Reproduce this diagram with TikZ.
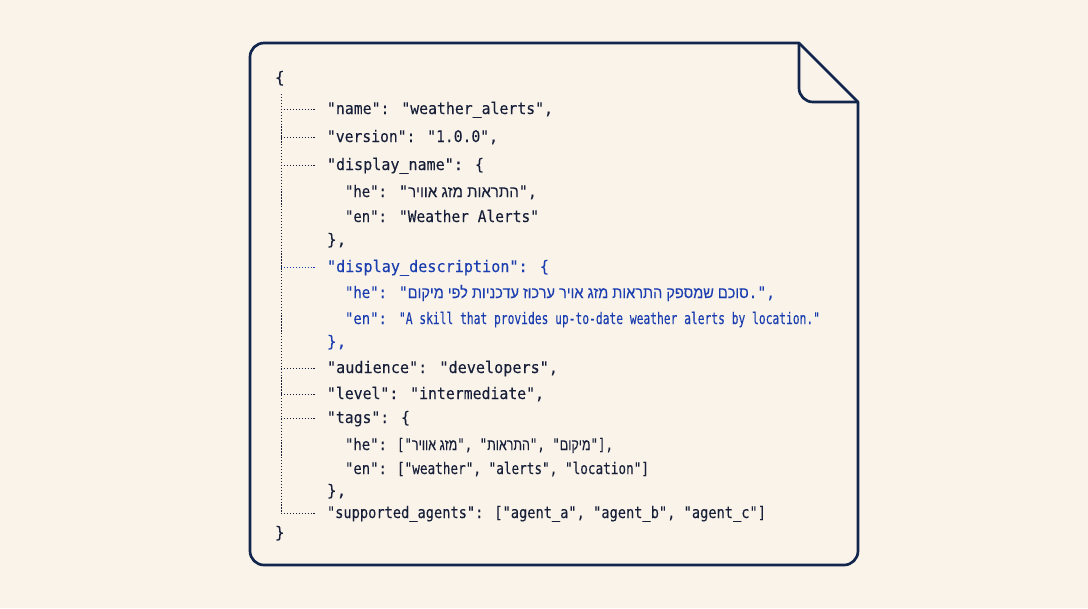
\documentclass[tikz,border=0pt]{standalone}
\usepackage{fontspec}
\usepackage{graphicx}
\newfontfamily\jsonfont[FakeBold=0.08]{DejaVu Sans Mono}
\newfontfamily\hebfont[Script=Hebrew,FakeBold=0.08]{Liberation Sans}
\TeXXeTstate=1
\definecolor{paper}{HTML}{F9F3E9}
\definecolor{navy}{HTML}{12264D}
\definecolor{ink}{HTML}{161E38}
\definecolor{accent}{HTML}{1A3DB0}
\newlength{\pxw}
\setlength{\pxw}{0.025cm}
\newcommand{\fitted}[2]{\resizebox{#1\pxw}{\height}{#2}}
\tikzset{
    sheet/.style={draw=navy, line width=1.9pt, line join=round},
    guide/.style={draw=ink, line width=0.55pt, dash pattern=on 0.9pt off 1.2pt},
    line/.style={anchor=base west, inner sep=0pt, outer sep=0pt, text=ink, font=\jsonfont\fontsize{11.4}{13}\selectfont},
    blueline/.style={line, text=accent}
}
\begin{document}
\begin{tikzpicture}[x=0.025cm, y=-0.025cm]
            \path[fill=paper] (0,0) rectangle (1088,608);

            % sheet with folded corner
            \draw[sheet] (799,43) [rounded corners=0.35cm] -- (250,43) -- (250,565) -- (858,565) [sharp corners] -- (858,102) -- cycle;
            \draw[sheet] (799,43) [rounded corners=0.35cm] -- (799,102) [sharp corners] -- (858,102);

            % guide lines
            \coordinate (top) at (281,94);
            \coordinate (bottom) at (281,513);
            \draw[guide] (top) -- (bottom);
            \foreach \g/\y in {name/109, version/137, dname/165, audience/368, level/394, tags/418, agents/513} {
                \coordinate (\g a) at (281,\y);
                \coordinate (\g b) at (316,\y);
                \draw[guide] (\g a) -- (\g b);
            }
            \coordinate (ddesca) at (281,267);
            \coordinate (ddescb) at (316,267);
            \draw[guide, draw=accent] (ddesca) -- (ddescb);

            % json text
            \node[line] (open) at (275,83) {\{};
            \node[line] (name) at (327,114) {\fitted{226}{"name": "weather\_alerts",}};
            \node[line] (version) at (327,142) {\fitted{171}{"version": "1.0.0",}};
            \node[line] (dname) at (327,170) {\fitted{157}{"display\_name": \{}};
            \node[line] (dnamehekey) at (345,197) {\fitted{42}{"he":}};
            \node[line] (dnamehe) at (399,197) {\fitted{138}{"{\hebfont\beginR התראות מזג אוויר\endR}",}};
            \node[line] (dnameenkey) at (345,222) {\fitted{42}{"en":}};
            \node[line] (dnameen) at (399,222) {\fitted{140}{"Weather Alerts"}};
            \node[line] (dnameclose) at (327,245) {\},};

            \node[blueline] (ddesc) at (327,272) {\fitted{222}{"display\_description": \{}};
            \node[blueline] (ddeschekey) at (345,298) {\fitted{42}{"he":}};
            \node[blueline] (ddesche) at (399,298) {\fitted{376}{"{\hebfont\beginR סוכם שמספק התראות מזג אויר ערכוז עדכניות לפי מיקום\endR}.",}};
            \node[blueline] (ddescenkey) at (345,324) {\fitted{42}{"en":}};
            \node[blueline] (ddescen) at (399,324) {\fitted{421}{"A skill that provides up-to-date weather alerts by location."}};
            \node[blueline] (ddescclose) at (327,347) {\},};

            \node[line] (audience) at (327,373) {\fitted{231}{"audience": "developers",}};
            \node[line] (level) at (327,399) {\fitted{217}{"level": "intermediate",}};
            \node[line] (tags) at (327,423) {\fitted{83}{"tags": \{}};
            \node[line] (tagshekey) at (345,450) {\fitted{42}{"he":}};
            \node[line] (tagshe) at (397,450) {\fitted{216}{["{\hebfont\beginR מזג אוויר\endR}", "{\hebfont\beginR התראות\endR}", "{\hebfont\beginR מיקום\endR}"],}};
            \node[line] (tagsenkey) at (345,474) {\fitted{42}{"en":}};
            \node[line] (tagsen) at (397,474) {\fitted{252}{["weather", "alerts", "location"]}};
            \node[line] (tagsclose) at (327,496) {\},};
            \node[line] (agents) at (327,518) {\fitted{439}{"supported\_agents": ["agent\_a", "agent\_b", "agent\_c"]}};
            \node[line] (close) at (275,538) {\}};
        \end{tikzpicture}
\end{document}
